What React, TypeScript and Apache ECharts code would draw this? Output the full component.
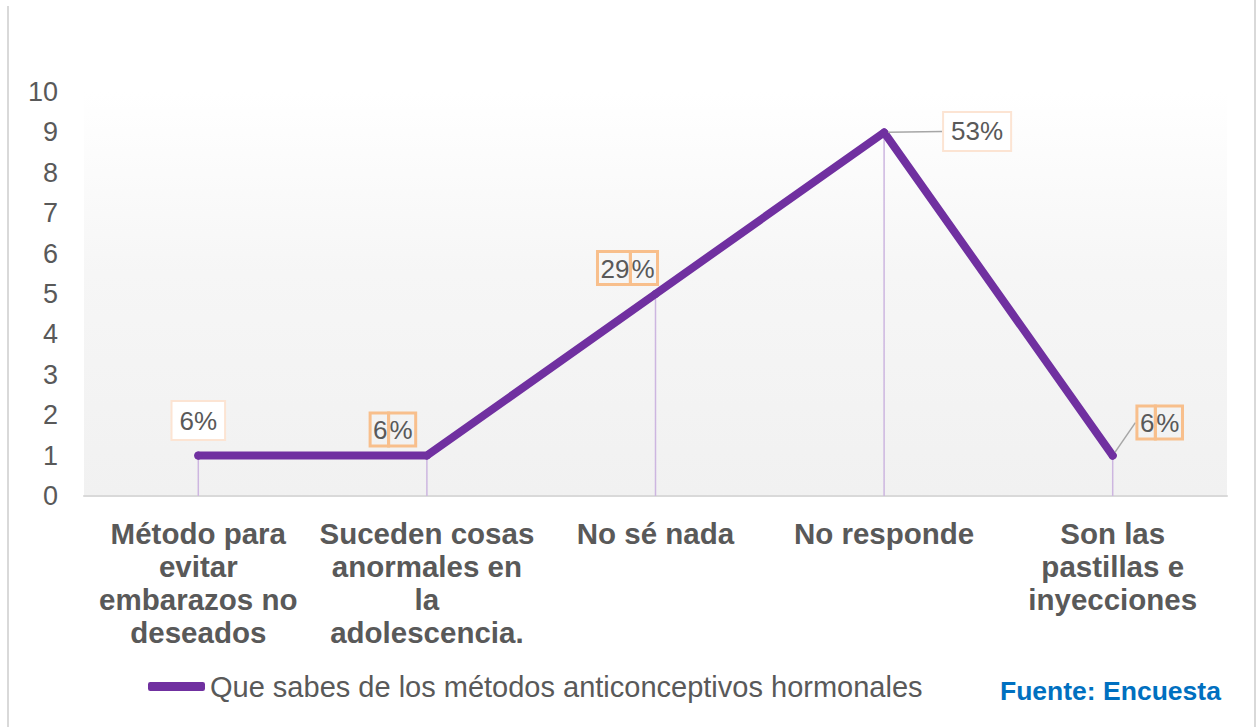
import React, { useEffect, useRef } from "react";
import * as echarts from "echarts";

const categories = [
  "Método para\nevitar\nembarazos no\ndeseados",
  "Suceden cosas\nanormales en\nla\nadolescencia.",
  "No sé nada",
  "No responde",
  "Son las\npastillas e\ninyecciones",
];
const values = [1, 1, 5, 9, 1];
const percentLabels = ["6%", "6%", "29%", "53%", "6%"];
const seriesName = "Que sabes de los métodos anticonceptivos hormonales";
const yTicks = { min: 0, max: 10, interval: 1 };
const sourceText = "Fuente: Encuesta";

// label styling (split boxes vs single box) and offsets from the point
const labelKinds = ["single", "split", "split", "single", "split"];
const labelOffsets: [number, number][] = [
  [0, -35],
  [-34, -26],
  [-28, -26],
  [93, -1],
  [47, -33],
];
const showLeader = [false, false, false, true, true];

const FONT = "'Liberation Sans', Arial, sans-serif";
const GREY = "#595959";
const PURPLE = "#7030a0";
const ORANGE = "#f8bf8c";
const PEACH = "#fce4d3";

function splitText(t: string) {
  const n = t.replace("%", "");
  return `{a|${n}}{b|%}`;
}

export default function App() {
  const ref = useRef<HTMLDivElement>(null);
  useEffect(() => {
    if (!ref.current) return;
    const chart = echarts.init(ref.current, null, { renderer: "svg" });
    const lineData = values.map((v, i) => {
      const single = labelKinds[i] === "single";
      return {
        value: v,
        label: single
          ? {
              formatter: percentLabels[i],
              borderColor: PEACH,
              borderWidth: 2,
              backgroundColor: "#ffffff",
              padding: [4, 7, 3, 7],
            }
          : {
              formatter: splitText(percentLabels[i]),
              rich: {
                a: {
                  fontSize: 26,
                  fontFamily: FONT,
                  color: GREY,
                  borderColor: ORANGE,
                  borderWidth: 3,
                  padding: [4, 1, 3, 3],
                  lineHeight: 30,
                },
                b: {
                  fontSize: 26,
                  fontFamily: FONT,
                  color: GREY,
                  borderColor: ORANGE,
                  borderWidth: 3,
                  padding: [4, 3, 3, 1],
                  lineHeight: 30,
                },
              },
            },
        labelLine: { show: showLeader[i] },
      };
    });

    chart.setOption({
      animation: false,
      textStyle: { fontFamily: FONT },
      grid: {
        left: 84,
        right: 30,
        top: 92,
        bottom: 231,
        show: true,
        borderWidth: 0,
        backgroundColor: new echarts.graphic.LinearGradient(0, 0, 0, 1, [
          { offset: 0, color: "#ffffff" },
          { offset: 0.45, color: "#f6f6f6" },
          { offset: 1, color: "#f1f1f1" },
        ]),
      },
      legend: {
        data: [seriesName],
        left: 148,
        top: 672,
        padding: 0,
        icon: "roundRect",
        itemWidth: 57,
        itemHeight: 9,
        textStyle: { fontSize: 29, color: GREY, fontFamily: FONT },
      },
      xAxis: {
        type: "category",
        data: categories,
        axisLine: { lineStyle: { color: "#d9d9d9", width: 2 } },
        axisTick: { show: false },
        axisLabel: {
          fontSize: 29.5,
          fontWeight: "bold",
          color: GREY,
          lineHeight: 33,
          margin: 21,
          interval: 0,
          fontFamily: FONT,
        },
      },
      yAxis: {
        type: "value",
        min: yTicks.min,
        max: yTicks.max,
        interval: yTicks.interval,
        axisLine: { show: false },
        axisTick: { show: false },
        splitLine: { show: false },
        axisLabel: { fontSize: 27, color: GREY, margin: 26, fontFamily: FONT },
      },
      graphic: [
        {
          type: "rect",
          shape: { x: 7, y: 6, width: 2, height: 730 },
          style: { fill: "#d9d9d9" },
          silent: true,
        },
        {
          type: "rect",
          shape: { x: 1254, y: 0, width: 2, height: 730 },
          style: { fill: "#d9d9d9" },
          silent: true,
        },
        {
          type: "text",
          x: 1000,
          y: 691,
          style: {
            text: sourceText,
            fontSize: 26.5,
            fontWeight: "bold",
            fill: "#0070c0",
            fontFamily: FONT,
            verticalAlign: "middle",
          },
        },
      ],
      series: [
        {
          type: "bar",
          data: values,
          barWidth: 1.5,
          silent: true,
          z: 1,
          itemStyle: { color: "#cdb6e0" },
        },
        {
          type: "line",
          name: seriesName,
          data: lineData,
          z: 3,
          symbol: "circle",
          symbolSize: 8,
          itemStyle: { color: PURPLE },
          lineStyle: { color: PURPLE, width: 8, cap: "round", join: "round" },
          label: {
            show: true,
            position: "inside",
            fontSize: 26,
            color: GREY,
            fontFamily: FONT,
            lineHeight: 30,
          },
          labelLine: {
            lineStyle: { color: "#a6a6a6", width: 1.5 },
          },
          labelLayout: (p: any) => {
            const o = labelOffsets[p.dataIndex] || [0, 0];
            return { dx: o[0], dy: o[1] };
          },
        },
      ],
    });
    return () => chart.dispose();
  }, []);
  return (
    <div
      ref={ref}
      style={{ position: "fixed", left: 0, top: 0, width: 1257, height: 727, background: "#fff" }}
    />
  );
}
